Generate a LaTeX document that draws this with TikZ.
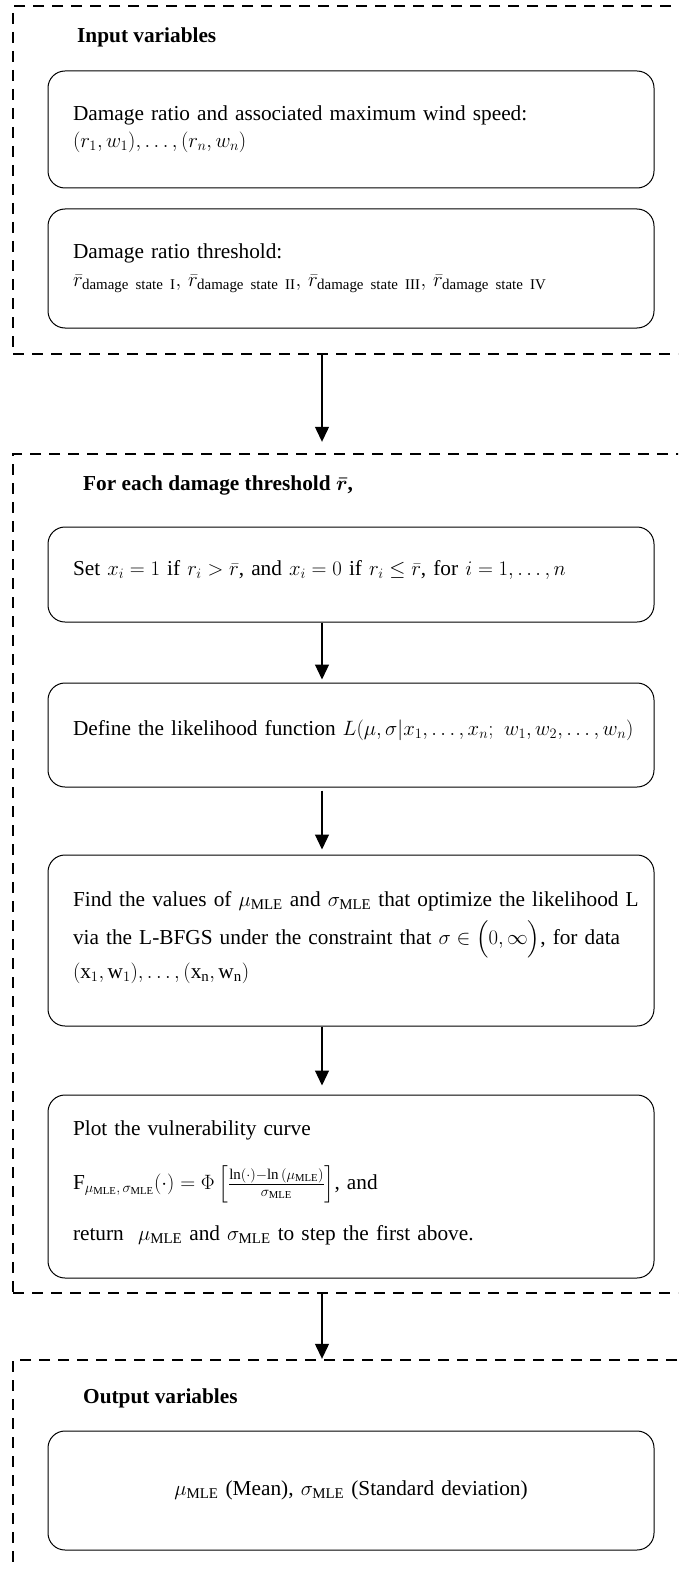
\documentclass[tikz,border=0pt]{standalone}
\usepackage{amsmath}
\usepackage{fontspec}
\setmainfont{Liberation Serif}
\usetikzlibrary{arrows.meta}
\tikzset{
  group/.style={draw, line width=2.4pt, dash pattern=on 11pt off 8pt, inner sep=0pt},
  stepbox/.style={draw, line width=1pt, rounded corners=17pt, minimum width=606pt,
    text width=556pt, inner xsep=25pt, inner ysep=0pt, align=left},
  title/.style={font=\fontsize{21.3}{27}\selectfont\bfseries, inner sep=0pt, anchor=west},
  arr/.style={line width=1.2pt, -{Triangle[length=15pt,width=14pt]}}
}
\begin{document}
\begin{tikzpicture}[x=1pt,y=-1pt, font=\fontsize{21.3}{27}\selectfont]
\useasboundingbox (0,0) rectangle (678,1570);
\clip (0,0) rectangle (678,1570);
\coordinate (axis) at (322,0);

% groups
\node[group, minimum width=687pt, minimum height=348pt] (g1) at (356.5,180) {};
\node[group, minimum width=687pt, minimum height=839pt] (g2) at (356.5,873.5) {};
\node[group, minimum width=687pt, minimum height=240pt] (g3) at (356.5,1480) {};

% titles
\node[title] (t1) at (77,37) {Input variables};
\node[title] (t2) at (83,485) {For each damage threshold $\boldsymbol{\bar{r}}$,};
\node[title] (t3) at (83,1398) {Output variables};

% boxes
\node[stepbox, minimum height=117pt] (b1) at (351,129.5)
  {Damage ratio and associated maximum wind speed:\\
   $(r_1,w_1),\dots,(r_n,w_n)$};
\node[stepbox, minimum height=119pt] (b2) at (351,268.5)
  {Damage ratio threshold:\\[1pt]
   $\bar{r}_{\text{damage state I}},\,\bar{r}_{\text{damage state II}},\,\bar{r}_{\text{damage state III}},\,\bar{r}_{\text{damage state IV}}$};
\node[stepbox, minimum height=95pt] (b3) at (351,574.5)
  {\mbox{Set $x_i = 1$ if $r_i > \bar{r}$, and $x_i = 0$ if $r_i \le \bar{r}$, for $i = 1,\dots,n$}\\[-14pt]\mbox{}};
\node[stepbox, minimum height=104pt] (b4) at (351,735)
  {\mbox{Define the likelihood function $L(\mu,\sigma|x_1,\dots,x_n;\ w_1,w_2,\dots,w_n)$}\\[-12pt]\mbox{}};
\node[stepbox, minimum height=171pt] (b5) at (351,940.5)
  {\mbox{Find the values of $\mu_{\mathrm{MLE}}$ and $\sigma_{\mathrm{MLE}}$ that optimize the likelihood L}\\[9pt]
   \mbox{via the L-BFGS under the constraint that $\sigma\in\Bigl(0,\infty\Bigr)$, for data}\\[4pt]
   $(\mathrm{x}_1,\mathrm{w}_1),\dots,(\mathrm{x}_\mathrm{n},\mathrm{w}_\mathrm{n})$\\[-16pt]\mbox{}};
\node[stepbox, minimum height=183pt] (b6) at (351,1186.5)
  {Plot the vulnerability curve\\[24pt]
   $\mathrm{F}_{\mu_{\mathrm{MLE}},\,\sigma_{\mathrm{MLE}}}(\cdot)=\Phi\left[\frac{\ln(\cdot)-\ln\,(\mu_{\mathrm{MLE}})}{\sigma_{\mathrm{MLE}}}\right]$, and\\[22pt]
   return\ \ $\mu_{\mathrm{MLE}}$ and $\sigma_{\mathrm{MLE}}$ to step the first above.\\[-16pt]\mbox{}};
\node[stepbox, minimum height=119pt, align=center] (b7) at (351,1490.5)
  {$\mu_{\mathrm{MLE}}$ (Mean), $\sigma_{\mathrm{MLE}}$ (Standard deviation)};

% connectors
\draw[arr, shorten >=11pt] (g1.south -| axis) -- (g2.north -| axis);
\draw[arr, shorten >=3pt] (b3.south -| axis) -- (b4.north -| axis);
\draw[arr, shorten <=3pt, shorten >=5pt] (b4.south -| axis) -- (b5.north -| axis);
\draw[arr, shorten >=9pt] (b5.south -| axis) -- (b6.north -| axis);
\draw[arr] (g2.south -| axis) -- (g3.north -| axis);
\end{tikzpicture}
\end{document}
